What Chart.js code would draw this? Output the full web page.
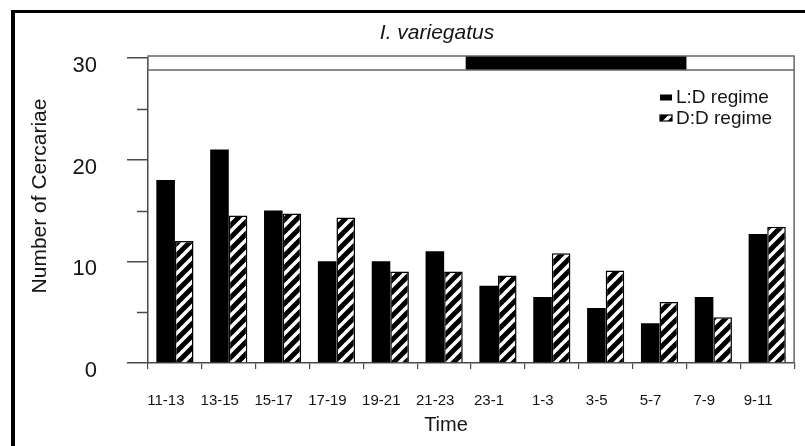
<!DOCTYPE html>
<html><head><meta charset="utf-8">
<script src="https://cdn.jsdelivr.net/npm/chart.js@4/dist/chart.umd.min.js"></script>
<style>
html,body{margin:0;padding:0;background:#fff;}
#wrap{position:relative;width:805px;height:446px;overflow:hidden;background:#fff;}
#c{position:absolute;left:0;top:0;}
#frame{position:absolute;left:11px;top:10px;width:900px;height:500px;border-left:4px solid #000;border-top:3px solid #000;pointer-events:none;}
</style></head><body>
<div id="wrap"><canvas id="c" width="805" height="446"></canvas><div id="frame"></div></div>
<script>
// ---- data ----
const categories = ['11-13','13-15','15-17','17-19','19-21','21-23','23-1','1-3','3-5','5-7','7-9','9-11'];
const ldRegime = [18, 21, 15, 10, 10, 11, 7.6, 6.5, 5.4, 3.9, 6.5, 12.7];
const ddRegime = [12, 14.5, 14.7, 14.3, 9, 9, 8.6, 10.8, 9.1, 6, 4.5, 13.4];
const seriesLabels = ['L:D regime', 'D:D regime'];
const yTickLabels = [0, 10, 20, 30];
const yMinorTicks = [5, 15, 25];
const firstHour = 11;          // start of first 2-h interval
const darkPhase = [22.8, 7.0]; // dark period (hours) shown in top band
const chartTitle = 'I. variegatus';
const xTitle = 'Time';
const yTitle = 'Number of Cercariae';

const FONT = "'Liberation Sans', Arial, sans-serif";
const TXT = '#151515';
const AX = '#4a4a4a';
Chart.defaults.font.family = FONT;

const cv = document.getElementById('c');
const ctx0 = cv.getContext('2d');
function hatchPattern(){
  const s = 12, t = document.createElement('canvas');
  t.width = s; t.height = s;
  const g = t.getContext('2d');
  g.fillStyle = '#fff'; g.fillRect(0,0,s,s);
  g.strokeStyle = '#000'; g.lineWidth = 5;
  g.beginPath();
  g.moveTo(-s, s); g.lineTo(s, -s);
  g.moveTo(0, 2*s); g.lineTo(2*s, 0);
  g.moveTo(-s/2, s*1.5); g.lineTo(s*1.5, -s/2);
  g.stroke();
  return ctx0.createPattern(t, 'repeat');
}
const hatch = hatchPattern();

const decor = {
  id: 'decor',
  afterDatasetsDraw(chart){
    const {ctx, chartArea: ca, scales} = chart;
    const y = scales.y;
    ctx.save();
    // minor y ticks
    ctx.strokeStyle = AX; ctx.lineWidth = 1.5;
    yMinorTicks.forEach(v => {
      const py = Math.round(y.getPixelForValue(v)) + 0.5;
      ctx.beginPath(); ctx.moveTo(ca.left - 11, py); ctx.lineTo(ca.left, py); ctx.stroke();
    });
    // light/dark band
    const top = y.getPixelForValue(y.max) - 2;
    const h = 14;
    const W = ca.right - ca.left;
    const toPx = hr => ca.left + (((hr - firstHour + 24) % 24) / 2) / categories.length * W;
    ctx.fillStyle = '#fff';
    ctx.fillRect(ca.left, top, W, h);
    ctx.fillStyle = '#000';
    const x0 = toPx(darkPhase[0]), x1 = toPx(darkPhase[1]);
    ctx.fillRect(x0, top, x1 - x0, h);
    ctx.strokeStyle = '#666'; ctx.lineWidth = 1.5;
    ctx.strokeRect(ca.left, top, W, h);
    // right frame of plot
    ctx.beginPath(); ctx.moveTo(ca.right, top + h); ctx.lineTo(ca.right, ca.bottom); ctx.stroke();
    // legend
    const lx = 660, ly = [94.5, 115];
    chart.data.datasets.forEach((ds, i) => {
      ctx.fillStyle = ds.backgroundColor;
      ctx.fillRect(lx, ly[i], 12, 6);
      if (i === 1) { ctx.strokeStyle = '#000'; ctx.lineWidth = 1.2; ctx.strokeRect(lx, ly[i], 12, 6); }
      ctx.fillStyle = TXT; ctx.font = '19px ' + FONT;
      ctx.textAlign = 'left'; ctx.textBaseline = 'middle';
      ctx.fillText(ds.label, lx + 16, ly[i] + 3.5);
    });
    // titles
    ctx.fillStyle = TXT; ctx.textAlign = 'center'; ctx.textBaseline = 'middle';
    ctx.font = 'italic 21px ' + FONT;
    ctx.fillText(chartTitle, 437, 33);
    ctx.font = '20px ' + FONT;
    ctx.fillText(xTitle, 446, 425);
    ctx.translate(40, 196); ctx.rotate(-Math.PI/2);
    ctx.font = '21px ' + FONT;
    ctx.fillText(yTitle, 0, 0);
    ctx.restore();
  }
};

new Chart(cv, {
  type: 'bar',
  data: {
    labels: categories,
    datasets: [
      {label: seriesLabels[0], data: ldRegime, backgroundColor: '#000', borderWidth: 0,
       categoryPercentage: 0.69, barPercentage: 1},
      {label: seriesLabels[1], data: ddRegime, backgroundColor: hatch, borderColor: '#000', borderWidth: 1.5,
       categoryPercentage: 0.69, barPercentage: 1}
    ]
  },
  options: {
    responsive: false, animation: false,
    layout: {padding: {left: 0, top: 58, right: 8, bottom: 0}},
    plugins: {legend: {display: false}, title: {display: false}, tooltip: {enabled: false}},
    scales: {
      x: {
        offset: true,
        grid: {offset: true, drawOnChartArea: false, tickLength: 6, color: AX, lineWidth: 1.2},
        border: {display: true, color: AX, width: 1.5},
        ticks: {color: TXT, font: {size: 15}, padding: 23, labelOffset: -9, maxRotation: 0, autoSkip: false},
        afterFit(s){ s.height = 83; }
      },
      y: {
        min: 0, max: 30,
        grid: {drawOnChartArea: false, tickLength: 21, lineWidth: 1.5,
               tickColor: c => (c.tick && yTickLabels.includes(c.tick.value)) ? AX : 'rgba(0,0,0,0)'},
        border: {display: true, color: AX, width: 1.5},
        ticks: {stepSize: 5, color: TXT, font: {size: 22}, padding: 30, labelOffset: 8,
                callback: v => yTickLabels.includes(v) ? String(v) : ''},
        afterFit(s){ s.width = 148; }
      }
    }
  },
  plugins: [decor]
});
</script>
</body></html>
